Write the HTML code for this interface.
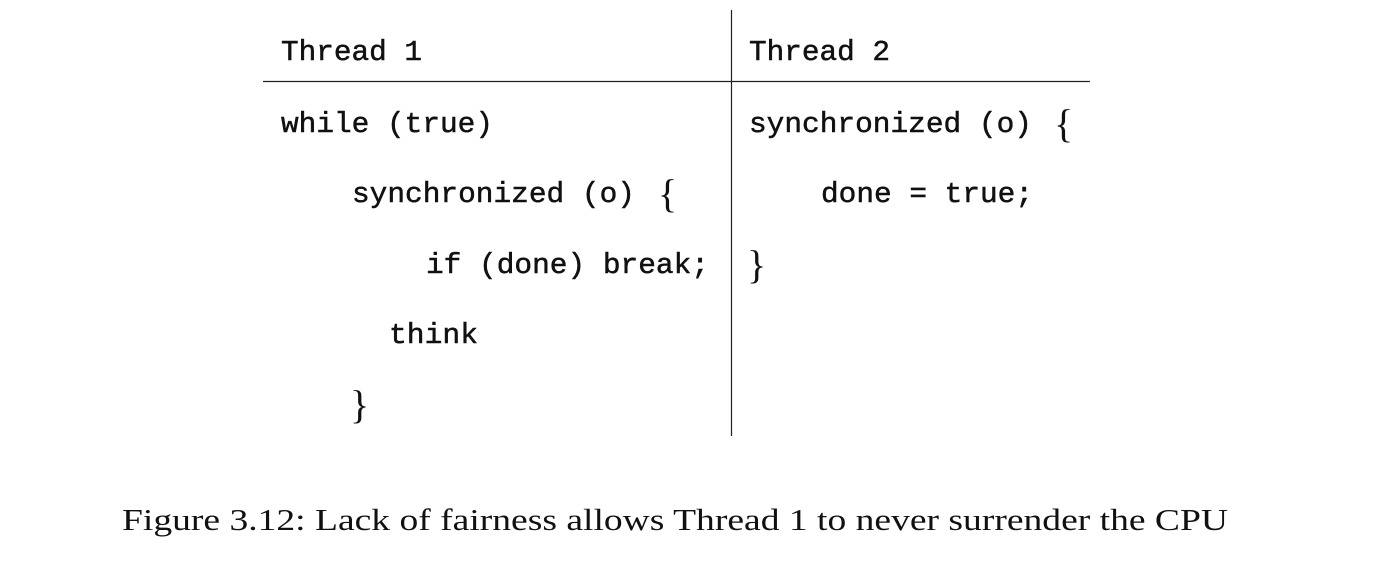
<!DOCTYPE html>
<html><head><meta charset="utf-8"><style>
html,body{margin:0;padding:0;background:#fff;}
svg{display:block}
</style></head><body>
<svg width="1378" height="578" viewBox="0 0 1378 578" xmlns="http://www.w3.org/2000/svg">
<rect width="1378" height="578" fill="#fff"/>
<line x1="263" y1="81.5" x2="1090" y2="81.5" stroke="#222" stroke-width="1.2"/>
<line x1="731.5" y1="10" x2="731.5" y2="436" stroke="#222" stroke-width="1.2"/>
<g font-family="'Liberation Mono', monospace" font-size="29" fill="#111" stroke="#111" stroke-width="0.5">
<text x="281" y="60" textLength="141" lengthAdjust="spacingAndGlyphs">Thread 1</text>
<text x="749" y="60" textLength="141" lengthAdjust="spacingAndGlyphs">Thread 2</text>
<text x="281" y="132" textLength="212" lengthAdjust="spacingAndGlyphs">while (true)</text>
<text x="352" y="202" textLength="283" lengthAdjust="spacingAndGlyphs">synchronized (o)</text>
<text x="426" y="273" textLength="283" lengthAdjust="spacingAndGlyphs">if (done) break;</text>
<text x="389" y="343" textLength="89" lengthAdjust="spacingAndGlyphs">think</text>
<text x="749" y="132" textLength="283" lengthAdjust="spacingAndGlyphs">synchronized (o)</text>
<text x="821" y="202" textLength="212" lengthAdjust="spacingAndGlyphs">done = true;</text>
</g>
<g font-family="'Liberation Serif', serif" font-size="40" fill="#111">
<text x="658" y="207">{</text>
<text x="1054" y="137">{</text>
<text x="350" y="418">}</text>
<text x="747" y="278">}</text>
</g>
<text x="122" y="530" font-family="'Liberation Serif', serif" font-size="31" fill="#111" textLength="1106" lengthAdjust="spacingAndGlyphs">Figure 3.12: Lack of fairness allows Thread 1 to never surrender the CPU</text>
</svg>
</body></html>
